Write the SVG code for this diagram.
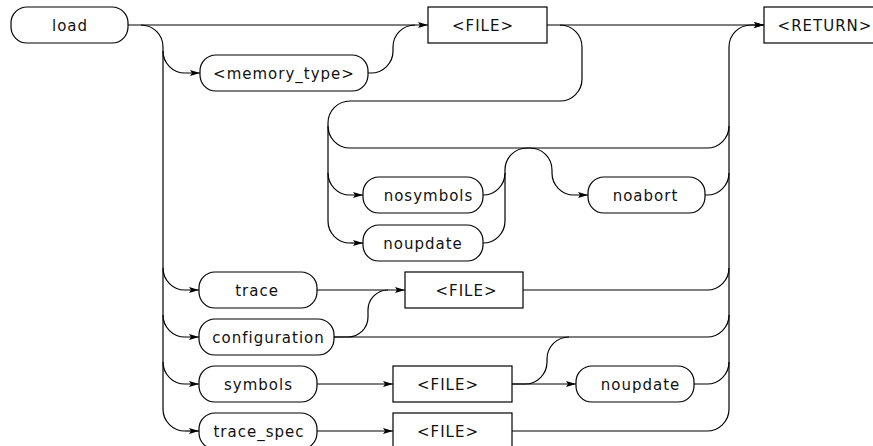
<svg xmlns="http://www.w3.org/2000/svg" width="873" height="446" viewBox="0 0 873 446">
<style>
.n{fill:#fff;stroke:#000;stroke-width:1.2}
.t{font-family:"DejaVu Sans",sans-serif;font-size:15px;letter-spacing:1px;text-anchor:middle;fill:#111}
.c{fill:none;stroke:#000;stroke-width:1.2}
.a{marker-end:url(#ah)}
</style>
<defs>
<marker id="ah" markerUnits="userSpaceOnUse" markerWidth="11" markerHeight="7" refX="10" refY="3.5" orient="auto">
<path d="M0,0.5 L10,3.5 L0,6.5 L2,3.5 z" fill="#000"/>
</marker>
</defs>
<g id="connectors">
<path class="c a" d="M128,25 H428"/>
<path class="c a" d="M547,25 H764"/>
<path class="c" d="M141,25 A22,22 0 0 1 163,47 V409 A22,22 0 0 0 185,431"/>
<path class="c a" d="M185,431 H199"/>
<path class="c a" d="M163,51 A22,22 0 0 0 185,73 H200"/>
<path class="c" d="M368,73 H371 A22,22 0 0 0 393,51 V47 A22,22 0 0 1 415,25"/>
<path class="c" d="M560,25 A22,22 0 0 1 582,47 V79 A22,22 0 0 1 560,101 H350 A22,22 0 0 0 328,123 V221 A22,22 0 0 0 350,243"/>
<path class="c a" d="M350,243 H363"/>
<path class="c" d="M328,126 A22,22 0 0 0 350,148 H707 A22,22 0 0 0 729,126"/>
<path class="c a" d="M328,173 A22,22 0 0 0 350,195 H363"/>
<path class="c" d="M483,195 A22,22 0 0 0 505,173"/>
<path class="c a" d="M483,243 A22,22 0 0 0 505,221 V170 A22,22 0 0 1 527,148 H530 A22,22 0 0 1 552,170 V173 A22,22 0 0 0 574,195 H588"/>
<path class="c" d="M705,195 H707 A22,22 0 0 0 729,173"/>
<path class="c a" d="M729,409 V47 A22,22 0 0 1 751,25 H764"/>
<path class="c a" d="M163,268 A22,22 0 0 0 185,290 H199"/>
<path class="c a" d="M163,315 A22,22 0 0 0 185,337 H199"/>
<path class="c a" d="M163,362 A22,22 0 0 0 185,384 H199"/>
<path class="c a" d="M317,290 H405"/>
<path class="c" d="M334,337 H348 A20,20 0 0 0 368,317 V310 A20,20 0 0 1 388,290"/>
<path class="c" d="M334,337 H707 A22,22 0 0 0 729,315"/>
<path class="c" d="M523,290 H707 A22,22 0 0 0 729,268"/>
<path class="c a" d="M317,384 H393"/>
<path class="c a" d="M512,384 H576"/>
<path class="c" d="M512,384 H525 A22,22 0 0 0 547,362 V359 A22,22 0 0 1 569,337"/>
<path class="c" d="M694,384 H707 A22,22 0 0 0 729,362"/>
<path class="c a" d="M317,431 H393"/>
<path class="c" d="M512,431 H707 A22,22 0 0 0 729,409"/>
</g>
<g id="load"><rect class="n" x="11" y="7" width="117" height="36" rx="16"/><text class="t" x="70" y="30.5">load</text></g>
<g id="memory_type"><rect class="n" x="200" y="55" width="168" height="36" rx="16"/><text class="t" x="284" y="78.5">&lt;memory_type&gt;</text></g>
<g id="file1"><rect class="n" x="428" y="7" width="119" height="36"/><text class="t" x="483" y="30.5">&lt;FILE&gt;</text></g>
<g id="return"><rect class="n" x="764" y="7" width="120" height="36"/><text class="t" x="825" y="30.5">&lt;RETURN&gt;</text></g>
<g id="nosymbols"><rect class="n" x="363" y="177" width="120" height="36" rx="16"/><text class="t" x="428.5" y="200.5">nosymbols</text></g>
<g id="noupdate1"><rect class="n" x="363" y="225" width="120" height="36" rx="16"/><text class="t" x="423" y="248.5">noupdate</text></g>
<g id="noabort"><rect class="n" x="588" y="177" width="117" height="36" rx="16"/><text class="t" x="645.5" y="200.5">noabort</text></g>
<g id="trace"><rect class="n" x="199" y="272" width="118" height="36" rx="16"/><text class="t" x="257" y="295.5">trace</text></g>
<g id="file_trace"><rect class="n" x="405" y="272" width="118" height="36"/><text class="t" x="466.5" y="295.5">&lt;FILE&gt;</text></g>
<g id="configuration"><rect class="n" x="199" y="319" width="135" height="36" rx="16"/><text class="t" x="268.5" y="342.5">configuration</text></g>
<g id="symbols"><rect class="n" x="199" y="366" width="118" height="36" rx="16"/><text class="t" x="258.5" y="389.5">symbols</text></g>
<g id="file_symbols"><rect class="n" x="393" y="366" width="119" height="36"/><text class="t" x="448" y="389.5">&lt;FILE&gt;</text></g>
<g id="noupdate2"><rect class="n" x="576" y="366" width="118" height="36" rx="16"/><text class="t" x="640.5" y="389.5">noupdate</text></g>
<g id="trace_spec"><rect class="n" x="199" y="413" width="118" height="36" rx="16"/><text class="t" x="259" y="436.5">trace_spec</text></g>
<g id="file_trace_spec"><rect class="n" x="393" y="413" width="119" height="36"/><text class="t" x="448" y="436.5">&lt;FILE&gt;</text></g>
</svg>
